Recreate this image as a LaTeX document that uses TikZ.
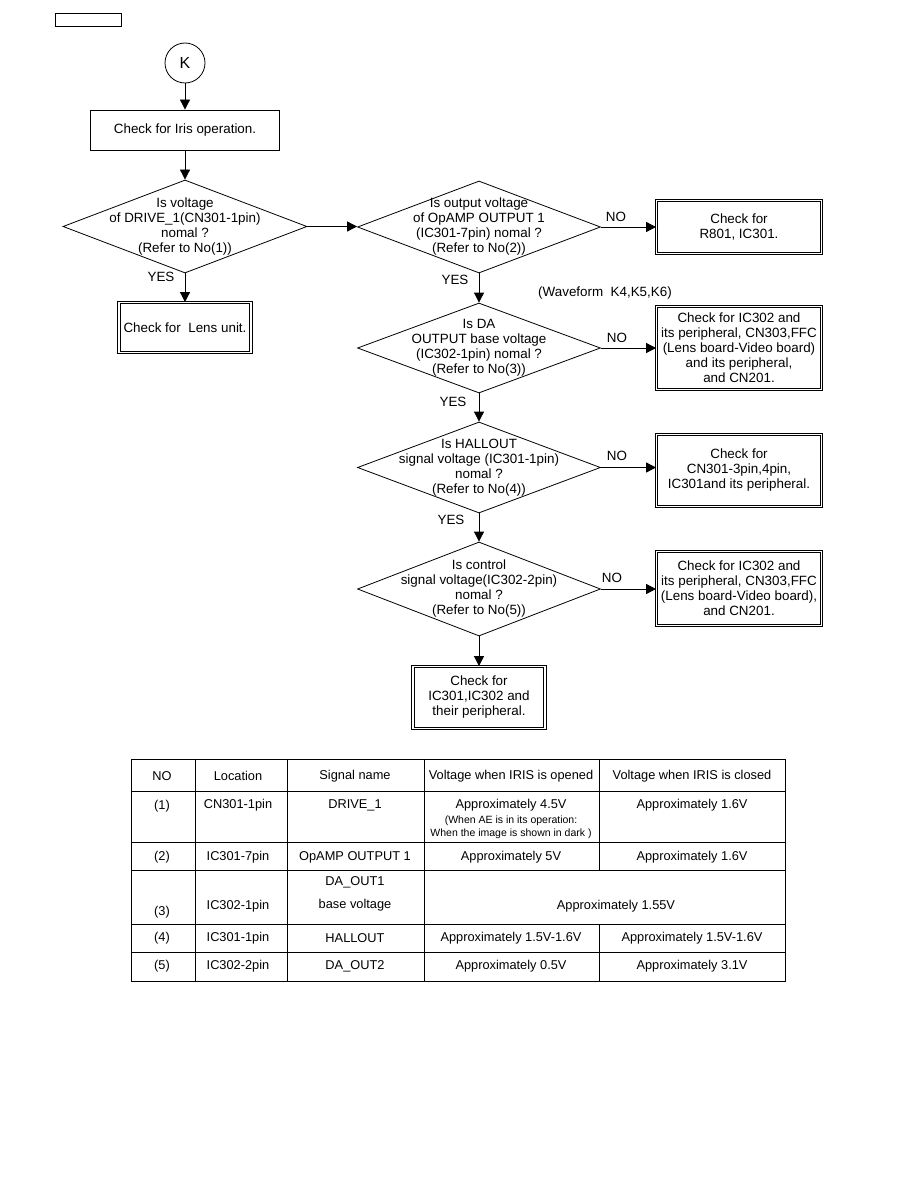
\documentclass[tikz,border=0pt]{standalone}
\usepackage{fontspec}
\setmainfont{Liberation Sans}
\usetikzlibrary{shapes.geometric,arrows.meta}

\begin{document}
\begin{tikzpicture}[x=1pt, y=-1pt, line width=0.8pt, font=\fontsize{13.4}{15}\selectfont,
  box/.style={draw, rectangle, inner sep=0pt, align=center},
  dbox/.style={draw, double, double distance=1.6pt, rectangle, inner sep=0pt, align=center},
  dec/.style={draw, diamond, inner sep=0pt, minimum width=243, minimum height=92},
  arr/.style={-{Triangle[length=10pt,width=10pt]}},
  cell/.style={inner sep=0pt, font=\fontsize{12.8}{15}\selectfont}]
\useasboundingbox (0,0) rectangle (918,1188);
% header tab and start
\node[box, minimum width=66, minimum height=13] (hdr) at (88,19.5) {};
\node[draw, circle, minimum size=40, inner sep=0pt, font=\fontsize{16}{18}\selectfont] (k) at (185,63) {K};
\node[box, minimum width=189, minimum height=40] (iris) at (185,130) {Check for Iris operation.};
% left branch
\node[dec, minimum width=244, minimum height=93] (d1) at (185,226.5) {};
\node[align=center] (d1t) at (d1) {Is voltage\\of DRIVE\_1(CN301-1pin)\\nomal ?\\(Refer to No(1))};
\node[dbox, minimum width=132, minimum height=50] (lens) at (185,327.5) {Check for~ Lens unit.};
\node (y1) at (161,277) {YES};
% right column of checks
\node[dec] (d2) at (479,227) {};
\node[align=center] (d2t) at (d2) {Is output voltage\\of OpAMP OUTPUT 1\\(IC301-7pin) nomal ?\\(Refer to No(2))};
\node[dec, minimum height=90] (d3) at (479,348) {};
\node[align=center] (d3t) at (d3) {Is DA\\OUTPUT base voltage\\(IC302-1pin) nomal ?\\(Refer to No(3))};
\node[dec, minimum height=91] (d4) at (479,467.5) {};
\node[align=center] (d4t) at (d4) {Is HALLOUT\\signal voltage (IC301-1pin)\\nomal ?\\(Refer to No(4))};
\node[dec, minimum height=94] (d5) at (479,589) {};
\node[align=center] (d5t) at (d5) {Is control\\signal voltage(IC302-2pin)\\nomal ?\\(Refer to No(5))};
\node[dbox, minimum width=132, minimum height=62] (b6) at (479,697.5) {Check for\\IC301,IC302 and\\their peripheral.};
% NO boxes
\node[dbox, minimum width=165, minimum height=53] (b2) at (739,227) {Check for\\R801, IC301.};
\node[dbox, minimum width=165, minimum height=83] (b3) at (739,348) {Check for IC302 and\\its peripheral, CN303,FFC\\(Lens board-Video board)\\and its peripheral,\\and CN201.};
\node[dbox, minimum width=165, minimum height=72] (b4) at (739,470.5) {Check for\\CN301-3pin,4pin,\\IC301and its peripheral.};
\node[dbox, minimum width=165, minimum height=74] (b5) at (739,588.5) {Check for IC302 and\\its peripheral, CN303,FFC\\(Lens board-Video board),\\and CN201.};
% YES / NO labels
\node (n2) at (616,217) {NO};
\node (n3) at (617,338) {NO};
\node (n4) at (617,456) {NO};
\node (n5) at (612,578) {NO};
\node (y2) at (455,280) {YES};
\node (y3) at (453,402) {YES};
\node (y4) at (451,520) {YES};
\node (wave) at (605,293) {(Waveform~ K4,K5,K6)};
% connectors
\draw[arr] (k) -- (iris);
\draw[arr] (iris) -- (d1);
\draw[arr] (d1.south) -- (d1.south |- lens.north);
\draw[arr] (d1.east) -- (d1.east -| d2.west);
\draw[arr] (d2.east) -- (d2.east -| b2.west);
\draw[arr] (d3.east) -- (d3.east -| b3.west);
\draw[arr] (d4.east) -- (d4.east -| b4.west);
\draw[arr] (d5.east) -- (d5.east -| b5.west);
\draw[arr] (d2) -- (d3);
\draw[arr] (d3) -- (d4);
\draw[arr] (d4) -- (d5);
\draw[arr] (d5) -- (b6);
% table
\draw (131,759) rectangle (785,981);
\foreach \y in {791,842,870,924,952} \draw (131,\y) -- (785,\y);
\foreach \x in {195,287,424} \draw (\x,759) -- (\x,981);
\draw (599,759) -- (599,870);
\draw (599,924) -- (599,981);
\foreach \x/\t [count=\i] in {162/NO, 238/Location, 355/Signal name, 511/Voltage when IRIS is opened, 692/Voltage when IRIS is closed}
  \node[cell] (h\i) at (\x,776) {\t};
% row 1
\node[cell] (r1a) at (162,806) {(1)};
\node[cell] (r1b) at (238,805) {CN301-1pin};
\node[cell] (r1c) at (355,805) {DRIVE\_1};
\node[cell, align=center] (r1d) at (511,805) {Approximately 4.5V};
\node[cell, align=center, font=\fontsize{10.5}{13}\selectfont] (r1e) at (511,827.5) {(When AE is in its operation:\\When the image is shown in dark )};
\node[cell] (r1f) at (692,805) {Approximately 1.6V};
% row 3
\node[cell] (r3a) at (162,912) {(3)};
\node[cell] (r3b) at (238,906) {IC302-1pin};
\node[cell, align=center, font=\fontsize{12.8}{23}\selectfont] (r3c) at (355,894) {DA\_OUT1\\base voltage};
\node[cell] (r3d) at (616,906) {Approximately 1.55V};
% rows 2, 4, 5
\foreach \y/\n/\loc/\sig/\vo/\vc in {857/2/IC301-7pin/OpAMP OUTPUT 1/Approximately 5V/Approximately 1.6V,
    938/4/IC301-1pin/HALLOUT/Approximately 1.5V-1.6V/Approximately 1.5V-1.6V,
    966/5/IC302-2pin/DA\_OUT2/Approximately 0.5V/Approximately 3.1V} {
  \node[cell] (r\n a) at (162,\y) {(\n)};
  \node[cell] (r\n b) at (238,\y) {\loc};
  \node[cell] (r\n c) at (355,\y) {\sig};
  \node[cell] (r\n d) at (511,\y) {\vo};
  \node[cell] (r\n f) at (692,\y) {\vc};
}
\end{tikzpicture}
\end{document}
